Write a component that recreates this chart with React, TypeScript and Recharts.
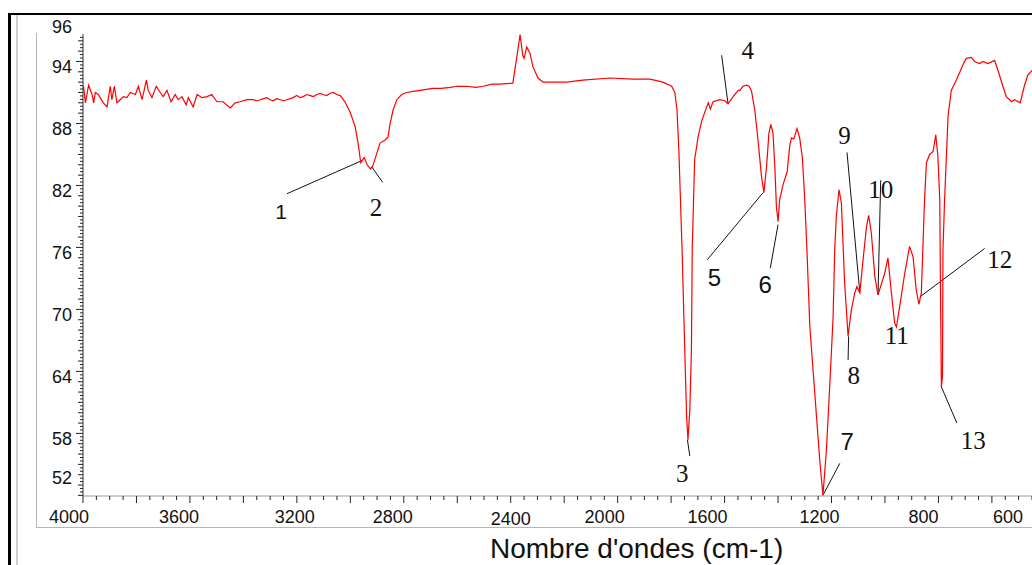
import React from 'react';
import { LineChart, Line, XAxis, YAxis, ReferenceLine, ReferenceDot } from 'recharts';

// spectrum: [wavenumber cm-1, transmittance %]
const ohRegion: [number, number][] = [
  [3998, 91.6], [3991, 90.0], [3979, 91.7], [3966, 90.8], [3960, 90.0], [3954, 91.0], [3943, 90.8],
  [3924, 90.0], [3910, 89.6], [3898, 91.6], [3892, 90.3], [3883, 91.6], [3873, 90.0], [3861, 90.3],
  [3849, 90.6], [3836, 90.5], [3823, 91.0], [3804, 90.8], [3793, 91.6], [3779, 90.3], [3763, 92.2],
  [3756, 91.2], [3742, 90.5], [3726, 91.6], [3711, 91.0], [3700, 90.6], [3686, 91.2], [3671, 90.1],
  [3655, 90.8], [3644, 90.3], [3630, 90.6], [3614, 89.8], [3606, 90.5], [3588, 89.6], [3573, 90.8],
  [3555, 90.5], [3536, 90.6], [3518, 90.8], [3499, 90.1], [3476, 90.1], [3449, 89.5], [3431, 90.0],
  [3412, 90.1], [3387, 90.3], [3363, 90.3], [3350, 90.2], [3337, 90.3], [3325, 90.4], [3312, 90.5],
  [3300, 90.3], [3289, 90.2], [3275, 90.4], [3262, 90.3], [3250, 90.2], [3237, 90.3], [3225, 90.4],
  [3214, 90.5], [3200, 90.7], [3188, 90.5], [3176, 90.6], [3163, 90.8], [3150, 90.7], [3138, 90.6],
  [3125, 90.8], [3113, 90.9], [3102, 90.8], [3089, 90.7], [3076, 90.9], [3064, 91.0], [3051, 90.8],
  [3038, 90.7], [3020, 90.1],
];

const chRegion: [number, number][] = [
  [3001, 89.1], [2990, 88.3], [2982, 87.7], [2971, 86.1], [2961, 84.2], [2948, 84.7], [2937, 84.0],
  [2924, 83.6], [2916, 83.9], [2901, 85.1], [2889, 86.1], [2870, 86.4], [2859, 86.7], [2851, 88.0],
  [2840, 89.3], [2826, 90.3], [2808, 90.8], [2789, 91.0], [2765, 91.1],
];

const midRegion: [number, number][] = [
  [2739, 91.2], [2715, 91.3], [2691, 91.4], [2660, 91.4], [2627, 91.5], [2600, 91.6], [2565, 91.6],
  [2530, 91.5], [2503, 91.6], [2470, 91.8], [2440, 91.8], [2392, 91.9], [2378, 94.3], [2365, 96.6],
  [2355, 94.6], [2350, 94.3], [2340, 95.4], [2328, 94.8], [2317, 93.5], [2298, 92.4], [2279, 92.0],
  [2191, 92.0], [2130, 92.2], [2029, 92.4], [1943, 92.3], [1879, 92.3], [1831, 92.0], [1798, 91.6],
  [1786, 91.0],
];

const carbonylRegion: [number, number][] = [
  [1778, 89.3], [1771, 85.4], [1765, 80.6], [1759, 75.8], [1749, 66.1], [1742, 59.6], [1737, 57.4],
  [1730, 60.3], [1724, 66.1], [1721, 75.8], [1718, 78.7], [1712, 84.5], [1699, 86.7], [1686, 88.2],
  [1674, 89.1], [1661, 90.0], [1653, 89.4], [1643, 90.1], [1618, 90.3], [1599, 90.2], [1587, 89.9],
  [1568, 90.6], [1549, 91.2], [1543, 91.2], [1531, 91.6], [1518, 91.7], [1508, 91.6], [1499, 91.1],
  [1487, 89.3],
];

const fingerprintRegion: [number, number][] = [
  [1475, 86.4], [1462, 82.9], [1453, 81.3], [1443, 83.8], [1434, 87.1], [1427, 87.9], [1419, 87.1],
  [1412, 83.8], [1406, 79.9], [1400, 78.5], [1394, 80.6], [1381, 82.1], [1366, 83.3], [1356, 85.9],
  [1350, 86.6], [1341, 86.5], [1329, 87.5], [1319, 86.6], [1309, 84.7], [1300, 80.6], [1292, 75.8],
  [1281, 68.3], [1256, 59.6], [1244, 55.4], [1232, 52.0], [1219, 56.4], [1206, 62.9], [1194, 69.3],
  [1188, 75.8], [1182, 79.0], [1172, 81.6], [1163, 80.3], [1151, 72.6], [1138, 67.4], [1126, 69.9],
  [1113, 71.6], [1105, 72.2], [1094, 71.6], [1082, 74.8], [1069, 78.0], [1061, 79.1], [1051, 77.4],
  [1038, 73.2], [1026, 71.4], [1013, 72.5], [1001, 73.5], [989, 75.0], [976, 71.6], [964, 68.7],
  [957, 68.3], [945, 70.3], [926, 73.5], [908, 76.1], [895, 75.1], [883, 71.9], [873, 70.5],
  [864, 71.6], [852, 80.6], [845, 84.2], [833, 85.0], [820, 85.3], [810, 86.9], [802, 84.8],
  [795, 80.6], [792, 70.9], [789, 62.5], [785, 63.5], [783, 75.8], [777, 80.6], [764, 88.7],
  [752, 91.2], [733, 92.2], [721, 92.9], [708, 93.7], [696, 94.3], [677, 94.4], [665, 94.0],
  [646, 93.8], [634, 94.0], [615, 93.8], [590, 94.1], [578, 93.2], [559, 91.6], [546, 90.6],
  [527, 90.1], [515, 90.3], [494, 90.0], [478, 91.7], [465, 92.7], [451, 93.1], [445, 93.3],
];

const spectrum = [...ohRegion, ...chRegion, ...midRegion, ...carbonylRegion, ...fingerprintRegion].map(
  ([wn, t]) => ({ wn, t })
);

const xLabelTicks = [4000, 3600, 3200, 2800, 2400, 2000, 1600, 1200, 800, 600];
const yLabelTicks = [96, 94, 88, 82, 76, 70, 64, 58, 52];

// peak numbers and their leader lines, in data units
const peaks = [
  { id: '1', wn: 3259, t: 79.5, lead: [[3237, 81.2], [2957, 84.4]] },
  { id: '2', wn: 2904, t: 79.9, lead: [[2920, 83.8], [2879, 82.3]] },
  { id: '3', wn: 1758, t: 54.1, lead: [[1739, 57.4], [1730, 55.8]] },
  { id: '4', wn: 1513, t: 95.1, lead: [[1611, 94.6], [1587, 89.9]] },
  { id: '5', wn: 1638, t: 73.1, lead: [[1456, 81.3], [1665, 74.8]] },
  { id: '6', wn: 1448, t: 72.4, lead: [[1400, 78.2], [1429, 74.0]] },
  { id: '7', wn: 1141, t: 57.2, lead: [[1232, 52.0], [1169, 55.1]] },
  { id: '8', wn: 1117, t: 63.6, lead: [[1136, 67.4], [1138, 65.1]] },
  { id: '9', wn: 1151, t: 86.8, lead: [[1142, 85.2], [1094, 71.6]] },
  { id: '10', wn: 1016, t: 81.6, lead: [[1016, 82.5], [1026, 71.4]] },
  { id: '11', wn: 956, t: 67.5, lead: null },
  { id: '12', wn: 571, t: 74.8, lead: [[870, 71.2], [627, 75.9]] },
  { id: '13', wn: 670, t: 57.3, lead: [[789, 62.5], [731, 59.0]] },
];
const sansPeaks = ['1', '5', '6', '7'];

const X_MIN = 450;
const X_MAX = 4000;
const Y_MIN = 51.94;
const Y_MAX = 96.66;

const xTicks: number[] = [];
for (let v = X_MAX; v >= X_MIN; v -= 50) xTicks.push(v);
const yTicks: number[] = [];
for (let i = 0; i * (1 / 3) + 52 <= Y_MAX; i++) yTicks.push(52 + i / 3);

const SANS = '"Liberation Sans", Arial, sans-serif';
const SERIF = '"Liberation Serif", "Times New Roman", serif';

const xLabelShift: Record<number, number> = {
  4000: -14, 3600: -11, 3200: -2, 2800: -11, 2400: 0, 2000: -13, 1600: -17, 1200: -12, 800: -15, 600: 16,
};

const XTick = (props: any) => {
  const { x, y, payload } = props;
  const v = payload.value;
  const len = v % 200 === 0 ? 7 : 4;
  const labelled = xLabelTicks.includes(v);
  return (
    <g>
      <line x1={x} x2={x} y1={y} y2={y + len} stroke="#222" strokeWidth={1} />
      {labelled && (
        <text x={x + xLabelShift[v]} y={y + (v === 2400 ? 29 : 27)} textAnchor="middle" fontSize={18} fontFamily={SANS} fill="#111">
          {v}
        </text>
      )}
    </g>
  );
};

const YTick = (props: any) => {
  const { x, y, payload } = props;
  const v = payload.value;
  const r = Math.round(v);
  const isInt = Math.abs(v - r) < 1e-6;
  const labelled = isInt && yLabelTicks.includes(r);
  const len = labelled && r !== 96 && r !== 52 ? 7 : isInt ? 5 : 3;
  const dy = r === 96 ? -14 : r === 52 ? -18 : 5;
  return (
    <g>
      <line x1={x - len} x2={x} y1={y} y2={y} stroke="#222" strokeWidth={1} />
      {labelled && (
        <text x={x - 11} y={y + dy + 6.5} textAnchor="end" fontSize={18} fontFamily={SANS} fill="#111">
          {r}
        </text>
      )}
    </g>
  );
};

const PeakLabel = (id: string) => (p: any) => {
  const sans = sansPeaks.includes(id);
  return (
    <text
      x={p.cx}
      y={p.cy}
      textAnchor="middle"
      dominantBaseline="central"
      fontSize={sans ? (id === '1' ? 21 : 24) : 25}
      fontFamily={sans ? SANS : SERIF}
      fill="#111"
    >
      {id}
    </text>
  );
};

export default function App() {
  return (
    <div style={{ position: 'absolute', left: 0, top: 0, width: 1032, height: 565, overflow: 'hidden', background: '#fff' }}>
      <div style={{ position: 'absolute', left: 8, top: 13, width: 1030, height: 2, background: '#000' }} />
      <div style={{ position: 'absolute', left: 8, top: 13, width: 3, height: 560, background: '#000' }} />
      <div style={{ position: 'absolute', left: 16, top: 15, width: 2, height: 560, background: '#cfcfcf' }} />
      <div
        style={{
          position: 'absolute', left: 36, top: 33, width: 1010, height: 494,
          borderLeft: '1px solid #b5b5b5', borderBottom: '1px solid #b5b5b5',
        }}
      />
      <div style={{ position: 'absolute', left: 0, top: 0 }}>
        <LineChart width={1032} height={565} data={spectrum} margin={{ top: 34, right: 0, bottom: 29, left: 0 }}>
          <XAxis
            type="number"
            dataKey="wn"
            domain={[X_MIN, X_MAX]}
            reversed
            allowDataOverflow
            ticks={xTicks}
            interval={0}
            tickLine={false}
            tickSize={0}
            tickMargin={0}
            tick={<XTick />}
            axisLine={{ stroke: '#9a9a9a' }}
            height={40}
            label={{
              content: () => (
                <text x={490} y={558} fontSize={28} fontFamily={SANS} fill="#111">
                  Nombre d'ondes (cm-1)
                </text>
              ),
            }}
          />
          <YAxis
            type="number"
            dataKey="t"
            domain={[Y_MIN, Y_MAX]}
            allowDataOverflow
            ticks={yTicks}
            interval={0}
            tickLine={false}
            tickSize={0}
            tickMargin={0}
            tick={<YTick />}
            axisLine={{ stroke: '#333' }}
            width={83}
          />
          {peaks
            .filter((p) => p.lead)
            .map((p) => (
              <ReferenceLine
                key={`lead-${p.id}`}
                segment={[
                  { x: p.lead![0][0], y: p.lead![0][1] },
                  { x: p.lead![1][0], y: p.lead![1][1] },
                ]}
                stroke="#111"
                strokeWidth={1}
                ifOverflow="visible"
              />
            ))}
          <Line
            type="linear"
            dataKey="t"
            stroke="#ff0000"
            strokeWidth={1.2}
            dot={false}
            isAnimationActive={false}
          />
          {peaks.map((p) => (
            <ReferenceDot key={`lbl-${p.id}`} x={p.wn} y={p.t} r={0} ifOverflow="visible" shape={PeakLabel(p.id)} />
          ))}
        </LineChart>
      </div>
    </div>
  );
}
